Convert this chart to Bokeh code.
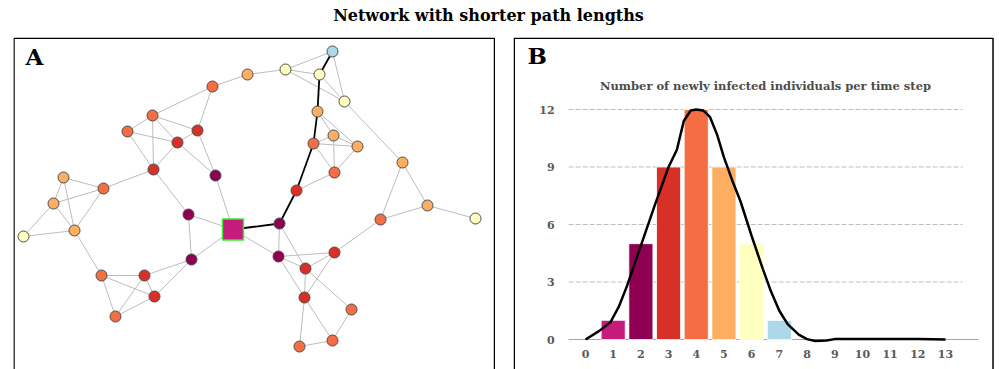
from bokeh.plotting import figure
from bokeh.models import (Range1d, FixedTicker, Label, BoxAnnotation, ColumnDataSource, Spacer)
from bokeh.layouts import column, row
from bokeh.embed import file_html
from bokeh.resources import INLINE

# ---------------- data ----------------
title_text = "Network with shorter path lengths"
chart_title = "Number of newly infected individuals per time step"

# network layout (panel coordinates, y measured downward) and infection step
node_x = [219.5, 202, 175, 178, 266, 265, 184, 164, 140, 131, 141, 283, 321, 292, 291,
          199, 139, 114, 90, 88, 102, 300, 321, 338, 286, 319, 367,
          234, 50, 40, 61, 304, 320, 344, 389, 414,
          272, 306, 331, 10, 462, 319]
node_y = [192, 138, 177, 222, 186, 219, 93, 105, 132, 238, 259, 153, 215, 231, 260,
          49, 78, 94, 151, 238, 279, 106, 135, 272, 309, 303, 182,
          37, 140, 166, 193, 74, 98, 109, 125, 168,
          32, 37, 64, 199, 181, 14]
node_step = [1, 2, 2, 2, 2, 2, 3, 3, 3, 3, 3, 3, 3, 3, 3,
             4, 4, 4, 4, 4, 4, 4, 4, 4, 4, 4, 4,
             5, 5, 5, 5, 5, 5, 5, 5, 5,
             6, 6, 6, 6, 6, 7]
edges = [(15, 27), (15, 16), (15, 6), (16, 17), (16, 7), (16, 6), (16, 8), (17, 7), (17, 8),
         (6, 7), (7, 8), (6, 1), (7, 1), (8, 18), (8, 2), (1, 0), (28, 18), (28, 29), (28, 30),
         (18, 29), (18, 30), (29, 39), (29, 30), (39, 30), (30, 19), (19, 9), (19, 10), (19, 20),
         (9, 10), (9, 20), (10, 20), (9, 3), (10, 3), (2, 3), (2, 0), (3, 0), (0, 5),
         (41, 36), (41, 38), (36, 27), (36, 37), (36, 38), (37, 38), (38, 34), (31, 32), (31, 33),
         (21, 32), (21, 33), (32, 33), (32, 22), (21, 22), (33, 22), (22, 11), (34, 26), (34, 35),
         (4, 5), (4, 13), (5, 12), (5, 13), (5, 14), (13, 12), (13, 14), (13, 23), (12, 14),
         (12, 26), (26, 35), (35, 40), (14, 24), (14, 25), (24, 25), (25, 23)]
path_edges = [(0, 4), (4, 11), (11, 21), (21, 31), (31, 37), (37, 41)]

# bar chart
time_steps = [1, 2, 3, 4, 5, 6, 7]
new_infected = [1, 5, 9, 12, 9, 5, 1]
x_ticks = list(range(0, 14))
y_ticks = [0, 3, 6, 9, 12]
curve_x = [0, 0.5, 0.9, 1.2, 1.5, 2.0, 2.5, 3.0, 3.3, 3.55, 3.8, 4.0, 4.25, 4.5, 4.75, 5.0,
           5.3, 5.6, 6.0, 6.4, 6.7, 7.0, 7.3, 7.7, 8.0, 8.3, 8.7, 9.0, 10, 11, 12, 13]
curve_y = [0, 0.45, 0.9, 1.7, 2.8, 4.9, 7.0, 9.0, 9.9, 11.4, 11.95, 12.0, 11.95, 11.6, 10.7, 9.5,
           8.3, 7.2, 5.4, 3.7, 2.5, 1.5, 0.8, 0.25, 0.02, -0.08, -0.05, 0.02, 0.02, 0.02, 0.02, 0.0]

step_colors = {1: "#c51b7d", 2: "#8e0152", 3: "#d73027", 4: "#f46d43",
               5: "#fdae61", 6: "#ffffbf", 7: "#abd9e9"}

SERIF = "DejaVu Serif"
GRAY_TXT = "#595959"


def bare(fig):
    fig.axis.visible = False
    fig.grid.visible = False
    fig.outline_line_color = None
    return fig


# ---------------- title ----------------
tfig = bare(figure(width=999, height=37, x_range=Range1d(0, 999), y_range=Range1d(37, 0),
                   output_backend="svg", toolbar_location=None, min_border=0, title=None))
tfig.add_layout(Label(x=488, y=14.5, text=title_text, text_align="center",
                      text_baseline="alphabetic", text_font=SERIF, text_font_style="bold",
                      text_font_size="16px", text_color="black"))

# ---------------- panel A: network ----------------
pa = bare(figure(width=482, height=332, x_range=Range1d(0, 482), y_range=Range1d(332, 0),
                 output_backend="svg", toolbar_location=None, min_border=0, title=None))

e_src = ColumnDataSource(dict(
    x0=[node_x[a] for a, b in edges], y0=[node_y[a] for a, b in edges],
    x1=[node_x[b] for a, b in edges], y1=[node_y[b] for a, b in edges]))
pa.segment("x0", "y0", "x1", "y1", source=e_src, line_color="#bdbdbd", line_width=1)
p_src = ColumnDataSource(dict(
    x0=[node_x[a] for a, b in path_edges], y0=[node_y[a] for a, b in path_edges],
    x1=[node_x[b] for a, b in path_edges], y1=[node_y[b] for a, b in path_edges]))
pa.segment("x0", "y0", "x1", "y1", source=p_src, line_color="black", line_width=1.8)

circ = [i for i, s in enumerate(node_step) if s != 1]
n_src = ColumnDataSource(dict(x=[node_x[i] for i in circ], y=[node_y[i] for i in circ],
                              c=[step_colors[node_step[i]] for i in circ]))
pa.scatter("x", "y", source=n_src, size=11, fill_color="c", line_color="#4d4d4d", line_width=1)
sq = [i for i, s in enumerate(node_step) if s == 1]
s_src = ColumnDataSource(dict(x=[node_x[i] for i in sq], y=[node_y[i] for i in sq],
                              c=[step_colors[node_step[i]] for i in sq]))
pa.scatter("x", "y", source=s_src, marker="square", size=21, fill_color="c",
           line_color="#33ee33", line_width=1.5)

pa.add_layout(BoxAnnotation(left=0.5, right=481, top=0.75, bottom=400, fill_alpha=0,
                            fill_color=None, line_color="black", line_alpha=1, line_width=1.5))
pa.add_layout(Label(x=12, y=18.5, text="A", text_baseline="alphabetic", text_font=SERIF,
                    text_font_style="bold", text_font_size="23px", text_color="black"))

# ---------------- panel B: bar chart ----------------
pb = bare(figure(width=486, height=332, x_range=Range1d(-2.600, 14.951),
                 y_range=Range1d(-1.565, 15.757), output_backend="svg",
                 toolbar_location=None, min_border=0, title=None))

pb.segment(x0=-0.61, x1=13.62, y0=y_ticks[1:], y1=y_ticks[1:], line_color="#bfbfbf",
           line_width=1, line_dash="5 2")
pb.segment(x0=-0.61, x1=14.19, y0=0, y1=0, line_color="#a6a6a6", line_width=1.2)

b_src = ColumnDataSource(dict(x=time_steps, top=new_infected,
                              c=[step_colors[t] for t in time_steps]))
pb.vbar(x="x", top="top", bottom=0, width=0.87, source=b_src, fill_color="c",
        line_color="white", line_width=0.8)
pb.line(curve_x, curve_y, line_color="black", line_width=2.5)

pb.xaxis.visible = True
pb.yaxis.visible = True
for ax in (pb.xaxis, pb.yaxis):
    ax.axis_line_color = None
    ax.major_tick_line_color = None
    ax.minor_tick_line_color = None
    ax.major_tick_out = 0
    ax.major_tick_in = 0
    ax.minor_tick_out = 0
    ax.minor_tick_in = 0
    ax.major_label_text_font = SERIF
    ax.major_label_text_font_style = "bold"
    ax.major_label_text_font_size = "11px"
    ax.major_label_text_color = GRAY_TXT
pb.xaxis.ticker = FixedTicker(ticks=x_ticks)
pb.yaxis.ticker = FixedTicker(ticks=y_ticks)
pb.xaxis.fixed_location = 0
pb.yaxis.fixed_location = -0.61
pb.xaxis.major_label_standoff = 10
pb.yaxis.major_label_standoff = 14

pb.add_layout(Label(x=6.5, y=13.25, text=chart_title, text_align="center",
                    text_baseline="alphabetic", text_font=SERIF, text_font_style="bold",
                    text_font_size="11.5px", text_color="#4d4d4d"))
pb.add_layout(Label(x=-2.09, y=14.83, text="B", text_baseline="alphabetic", text_font=SERIF,
                    text_font_style="bold", text_font_size="23px", text_color="black"))
pb.add_layout(BoxAnnotation(left=-2.573, right=14.717, top=15.717, bottom=-5,
                            fill_alpha=0, fill_color=None, line_color="black", line_alpha=1,
                            line_width=1.5))

layout = column(tfig, row(Spacer(width=13, height=332), pa, Spacer(width=18, height=332), pb))
open("out.html", "w").write(file_html(layout, INLINE))
